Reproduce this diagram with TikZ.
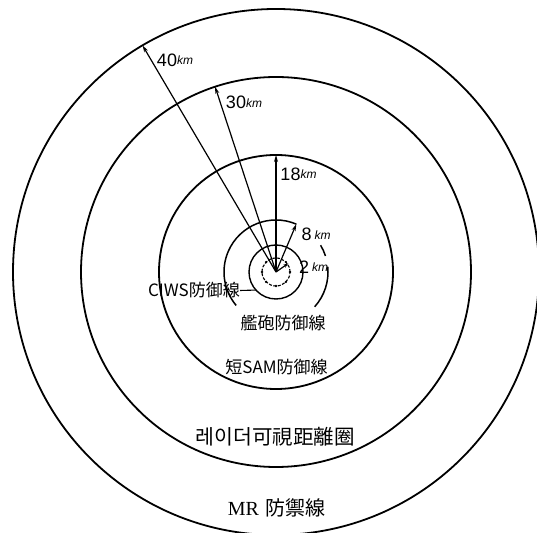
\documentclass[tikz,border=0pt]{standalone}
\usepackage{fontspec}
\newfontfamily\cjk{Noto Sans CJK KR}
\newfontfamily\lsans{Liberation Sans}
\newfontfamily\lserif{Liberation Serif}
\usetikzlibrary{arrows.meta}
\newcommand{\kmu}{\raisebox{1.5pt}{\lsans\itshape\fontsize{12}{12}\selectfont km}}
\begin{document}
\begin{tikzpicture}[x=1pt,y=1pt,
  ring/.style={line width=1.8pt},
  radial/.style={line width=1.2pt,-{Stealth[length=7pt,width=4pt]}},
  lab/.style={inner sep=0pt, font=\cjk\fontsize{17}{17}\selectfont},
  dist/.style={inner sep=0pt, font=\lsans\fontsize{18}{18}\selectfont}]
\useasboundingbox (0,0) rectangle (537,532);
\fill[white] (0,0) rectangle (537,532);
\coordinate (O) at (276,260);
% rings
\draw[ring] (O) circle[radius=263];
\draw[ring] (O) circle[radius=195];
\draw[ring] (O) circle[radius=117];
\draw[ring,line width=1.4pt] (O) circle[radius=27];
\draw[line width=1.1pt,dash pattern=on 3pt off 1.5pt] (O) circle[radius=14];
\foreach \a in {0,45,...,315}{\fill ([shift={(\a:14)}]O) circle[radius=1.3pt];}
% 8 km ring with gaps
\draw[ring,line width=1.5pt] ([shift={(67:52)}]O) arc[start angle=67,end angle=220,radius=52];
\draw[ring,line width=1.5pt] ([shift={(-42:52)}]O) arc[start angle=-42,end angle=6,radius=52];
\draw[ring,line width=1.5pt] ([shift={(18:52)}]O) arc[start angle=18,end angle=31,radius=52];
% radial end points
\coordinate (e40) at ([shift={(120.5:263)}]O);
\coordinate (e30) at ([shift={(108.2:195)}]O);
\coordinate (e18) at ([shift={(90:117)}]O);
\coordinate (e8) at ([shift={(67:52)}]O);
\coordinate (e2) at ([shift={(35:15)}]O);
\coordinate (ciwsP) at ([shift={(222:27)}]O);
\draw[radial] (O) -- (e40);
\draw[radial] (O) -- (e30);
\draw[radial] (O) -- (e18);
\draw[radial] (O) -- (e8);
\draw[radial,-{Stealth[length=5pt,width=3.5pt]}] (O) -- (e2);
% distance labels
\node[dist] (l40) at (175,472) {40\kmu};
\node[dist] (l30) at (244,429.5) {30\kmu};
\node[dist] (l18) at (298.5,358) {18\kmu};
\node[dist] (l8) at (316,297.5) {8\,\kmu};
\node[dist] (l2) at (313.5,265) {2\,\kmu};
% ring labels
\node[lab,anchor=east] (ciws) at (240,241.5) {CIWS防御線};
\draw[line width=1.1pt] (ciws.east) -- (ciwsP);
\node[lab] (gun) at (283,208.5) {艦砲防御線};
\node[lab] (sam) at (276.5,164.5) {短SAM防御線};
\node[inner sep=0pt, font=\cjk\fontsize{20.5}{20.5}\selectfont] (radar) at (275,95) {레이더可視距離圈};
\node[inner sep=0pt, font=\fontsize{20}{20}\selectfont] (mr) at (276.5,24.5) {{\lserif MR}\ {\cjk 防禦線}};
\end{tikzpicture}
\end{document}
